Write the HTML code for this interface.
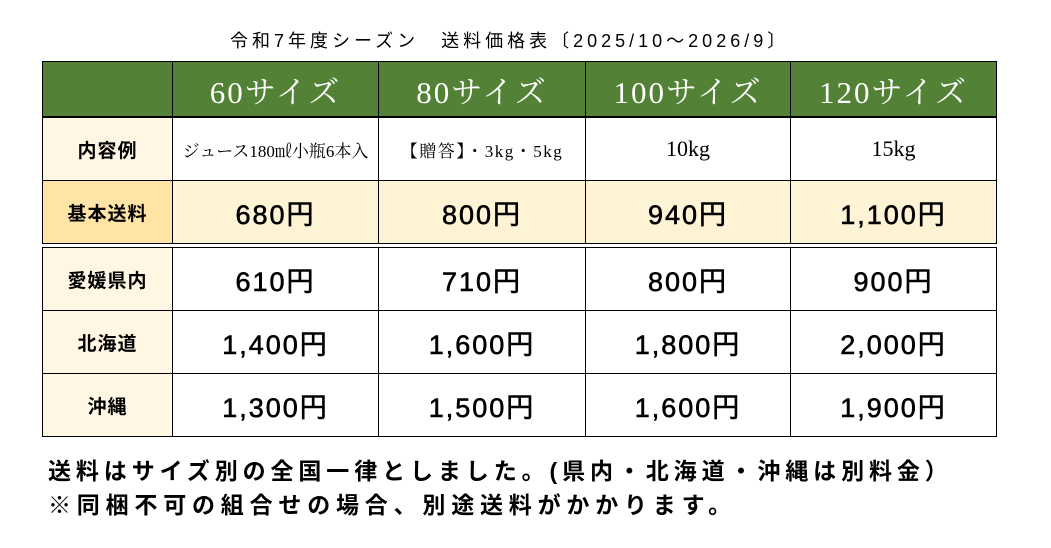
<!DOCTYPE html>
<html><head><meta charset="utf-8"><style>
body{margin:0;width:1051px;height:548px;background:#fff;position:relative;overflow:hidden;font-family:"Liberation Sans","Noto Sans CJK JP",sans-serif;}
.c{position:absolute;box-sizing:border-box;border:1.5px solid #000;display:flex;align-items:center;justify-content:center;color:#000;white-space:nowrap;}
.h{background:#538135;color:#fff;font-family:"Liberation Serif","Noto Serif CJK SC",serif;font-size:31px;letter-spacing:2px;}
.l{background:#fff6e3;font-weight:bold;font-size:19px;letter-spacing:1px;}
.p{font-size:27px;font-weight:normal;letter-spacing:2px;-webkit-text-stroke:0.6px #000;}
.s{font-family:"Liberation Serif","Noto Serif CJK SC",serif;}
.t{position:absolute;white-space:nowrap;}
</style></head><body>
<div class="t" style="left:230px;top:27px;font-size:18px;letter-spacing:4px;">令和7年度シーズン　送料価格表〔2025/10～2026/9〕</div>

<div class="c h" style="left:42px;top:61px;width:131px;height:56px"></div>
<div class="c h" style="left:172px;top:61px;width:207px;height:56px">60サイズ</div>
<div class="c h" style="left:378px;top:61px;width:208px;height:56px">80サイズ</div>
<div class="c h" style="left:585px;top:61px;width:206px;height:56px">100サイズ</div>
<div class="c h" style="left:790px;top:61px;width:207px;height:56px">120サイズ</div>

<div class="c l" style="left:42px;top:117px;width:131px;height:64px">内容例</div>
<div class="c s" style="left:172px;top:117px;width:207px;height:64px;font-size:17px">ジュース180㎖小瓶6本入</div>
<div class="c s" style="left:378px;top:117px;width:208px;height:64px;font-size:17px;letter-spacing:1.5px">【贈答】・3kg・5kg</div>
<div class="c s" style="left:585px;top:117px;width:206px;height:64px;font-size:22px">10kg</div>
<div class="c s" style="left:790px;top:117px;width:207px;height:64px;font-size:22px">15kg</div>

<div class="c l" style="left:42px;top:180px;width:131px;height:64px;background:#ffe4a6">基本送料</div>
<div class="c p" style="left:172px;top:180px;width:207px;height:64px;background:#fff3d6">680円</div>
<div class="c p" style="left:378px;top:180px;width:208px;height:64px;background:#fff3d6">800円</div>
<div class="c p" style="left:585px;top:180px;width:206px;height:64px;background:#fff3d6">940円</div>
<div class="c p" style="left:790px;top:180px;width:207px;height:64px;background:#fff3d6">1,100円</div>

<div class="c l" style="left:42px;top:247px;width:131px;height:64px">愛媛県内</div>
<div class="c p" style="left:172px;top:247px;width:207px;height:64px">610円</div>
<div class="c p" style="left:378px;top:247px;width:208px;height:64px">710円</div>
<div class="c p" style="left:585px;top:247px;width:206px;height:64px">800円</div>
<div class="c p" style="left:790px;top:247px;width:207px;height:64px">900円</div>

<div class="c l" style="left:42px;top:310px;width:131px;height:64px">北海道</div>
<div class="c p" style="left:172px;top:310px;width:207px;height:64px">1,400円</div>
<div class="c p" style="left:378px;top:310px;width:208px;height:64px">1,600円</div>
<div class="c p" style="left:585px;top:310px;width:206px;height:64px">1,800円</div>
<div class="c p" style="left:790px;top:310px;width:207px;height:64px">2,000円</div>

<div class="c l" style="left:42px;top:373px;width:131px;height:64px">沖縄</div>
<div class="c p" style="left:172px;top:373px;width:207px;height:64px">1,300円</div>
<div class="c p" style="left:378px;top:373px;width:208px;height:64px">1,500円</div>
<div class="c p" style="left:585px;top:373px;width:206px;height:64px">1,600円</div>
<div class="c p" style="left:790px;top:373px;width:207px;height:64px">1,900円</div>

<div class="t" style="left:48px;top:452px;font-size:23px;font-weight:bold;letter-spacing:4.9px;">送料はサイズ別の全国一律としました。(県内・北海道・沖縄は別料金）</div>
<div class="t" style="left:48px;top:486px;font-size:23px;font-weight:bold;letter-spacing:5.8px;">※同梱不可の組合せの場合、別途送料がかかります。</div>
</body></html>
